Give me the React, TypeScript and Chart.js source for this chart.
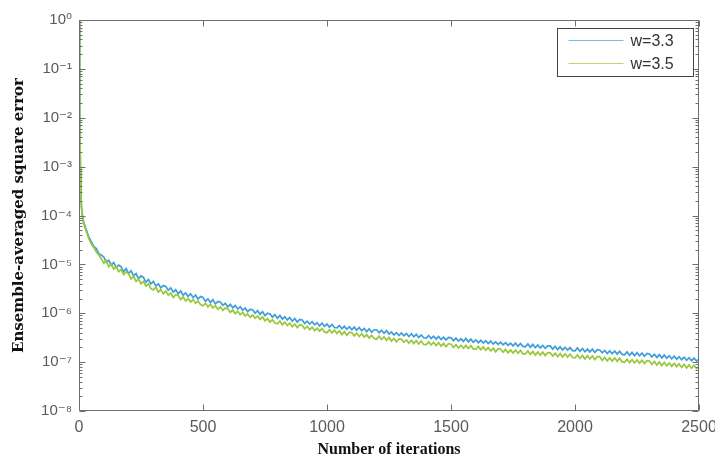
import { useEffect, useRef } from "react";
import { Chart, registerables } from "chart.js";

Chart.register(...registerables);

const iterations = [
  0, 2, 4, 6, 8, 10, 15, 20, 30, 40, 50, 60, 70, 80, 90,
  100, 110, 120, 130, 140, 150, 160, 170, 180, 190,
  200, 210, 220, 230, 240, 250, 260, 270, 280, 290,
  300, 310, 320, 330, 340, 350, 360, 370, 380, 390,
  400, 410, 420, 430, 440, 450, 460, 470, 480, 490,
  500, 510, 520, 530, 540, 550, 560, 570, 580, 590,
  600, 610, 620, 630, 640, 650, 660, 670, 680, 690,
  700, 710, 720, 730, 740, 750, 760, 770, 780, 790,
  800, 810, 820, 830, 840, 850, 860, 870, 880, 890,
  900, 910, 920, 930, 940, 950, 960, 970, 980, 990,
  1000, 1010, 1020, 1030, 1040, 1050, 1060, 1070, 1080, 1090,
  1100, 1110, 1120, 1130, 1140, 1150, 1160, 1170, 1180, 1190,
  1200, 1210, 1220, 1230, 1240, 1250, 1260, 1270, 1280, 1290,
  1300, 1310, 1320, 1330, 1340, 1350, 1360, 1370, 1380, 1390,
  1400, 1410, 1420, 1430, 1440, 1450, 1460, 1470, 1480, 1490,
  1500, 1510, 1520, 1530, 1540, 1550, 1560, 1570, 1580, 1590,
  1600, 1610, 1620, 1630, 1640, 1650, 1660, 1670, 1680, 1690,
  1700, 1710, 1720, 1730, 1740, 1750, 1760, 1770, 1780, 1790,
  1800, 1810, 1820, 1830, 1840, 1850, 1860, 1870, 1880, 1890,
  1900, 1910, 1920, 1930, 1940, 1950, 1960, 1970, 1980, 1990,
  2000, 2010, 2020, 2030, 2040, 2050, 2060, 2070, 2080, 2090,
  2100, 2110, 2120, 2130, 2140, 2150, 2160, 2170, 2180, 2190,
  2200, 2210, 2220, 2230, 2240, 2250, 2260, 2270, 2280, 2290,
  2300, 2310, 2320, 2330, 2340, 2350, 2360, 2370, 2380, 2390,
  2400, 2410, 2420, 2430, 2440, 2450, 2460, 2470, 2480, 2490,
  2500,
];

const errorW33 = [
  1.0, 1e-1, 6e-3, 8e-4, 2.5e-4, 1.5e-4, 9.0e-5, 7.0e-5, 5.0e-5, 3.6e-5, 2.9e-5, 2.3e-5, 2.1e-5, 1.65e-5, 1.55e-5,
  14.2e-6, 11.0e-6, 12.1e-6, 9.6e-6, 10.9e-6, 8.6e-6, 9.7e-6, 8.9e-6, 7.1e-6, 8.2e-6,
  6.5e-6, 7.4e-6, 5.9e-6, 6.5e-6, 5.1e-6, 5.8e-6, 5.4e-6, 4.3e-6, 4.9e-6, 4.0e-6,
  4.5e-6, 3.6e-6, 4.0e-6, 3.3e-6, 3.7e-6, 3.55e-6, 2.95e-6, 3.3e-6, 2.7e-6, 3.05e-6,
  2.5e-6, 2.85e-6, 2.35e-6, 2.6e-6, 2.2e-6, 2.5e-6, 2.1e-6, 2.35e-6, 1.95e-6, 2.2e-6,
  2.1e-6, 1.75e-6, 1.98e-6, 1.65e-6, 1.9e-6, 1.55e-6, 1.75e-6, 1.7e-6, 1.45e-6, 1.6e-6,
  1.35e-6, 1.52e-6, 1.3e-6, 1.44e-6, 1.22e-6, 1.36e-6, 1.15e-6, 1.28e-6, 1.08e-6, 1.2e-6,
  11.8e-7, 10.0e-7, 11.3e-7, 9.5e-7, 10.8e-7, 8.9e-7, 10.0e-7, 9.7e-7, 8.3e-7, 9.4e-7,
  7.9e-7, 9.0e-7, 7.6e-7, 8.5e-7, 7.3e-7, 8.2e-7, 6.9e-7, 7.8e-7, 6.6e-7, 7.5e-7,
  7.3e-7, 6.2e-7, 6.9e-7, 6.0e-7, 6.7e-7, 5.8e-7, 6.4e-7, 5.5e-7, 6.3e-7, 5.4e-7,
  6.0e-7, 5.2e-7, 5.9e-7, 5.1e-7, 5.0e-7, 5.6e-7, 4.8e-7, 5.4e-7, 4.7e-7, 5.3e-7,
  4.6e-7, 5.2e-7, 4.5e-7, 5.1e-7, 4.4e-7, 4.9e-7, 4.2e-7, 4.8e-7, 4.1e-7, 4.6e-7,
  4.6e-7, 4.0e-7, 4.5e-7, 3.9e-7, 4.4e-7, 3.75e-7, 4.15e-7, 3.6e-7, 4.0e-7, 3.5e-7,
  3.95e-7, 3.45e-7, 3.85e-7, 3.35e-7, 3.8e-7, 3.3e-7, 3.7e-7, 3.2e-7, 3.6e-7, 3.15e-7,
  3.1e-7, 3.5e-7, 3.05e-7, 3.4e-7, 2.95e-7, 3.35e-7, 2.9e-7, 3.25e-7, 2.85e-7, 3.2e-7,
  3.15e-7, 2.75e-7, 3.1e-7, 2.7e-7, 3.0e-7, 2.65e-7, 3.05e-7, 2.6e-7, 2.95e-7, 2.55e-7,
  2.85e-7, 2.5e-7, 2.8e-7, 2.45e-7, 2.75e-7, 2.4e-7, 2.7e-7, 2.35e-7, 2.6e-7, 2.3e-7,
  2.55e-7, 2.25e-7, 2.5e-7, 2.2e-7, 2.45e-7, 2.15e-7, 2.45e-7, 2.1e-7, 2.4e-7, 2.1e-7,
  2.05e-7, 2.35e-7, 2.0e-7, 2.3e-7, 1.97e-7, 2.25e-7, 1.95e-7, 2.2e-7, 1.92e-7, 2.15e-7,
  2.15e-7, 1.85e-7, 2.1e-7, 1.8e-7, 2.05e-7, 1.78e-7, 2.0e-7, 1.76e-7, 1.98e-7, 1.72e-7,
  1.7e-7, 1.95e-7, 1.66e-7, 1.9e-7, 1.63e-7, 1.85e-7, 1.62e-7, 1.84e-7, 1.58e-7, 1.8e-7,
  1.77e-7, 1.55e-7, 1.73e-7, 1.5e-7, 1.7e-7, 1.48e-7, 1.69e-7, 1.46e-7, 1.66e-7, 1.44e-7,
  1.41e-7, 1.62e-7, 1.38e-7, 1.58e-7, 1.36e-7, 1.56e-7, 1.35e-7, 1.53e-7, 1.32e-7, 1.5e-7,
  1.47e-7, 1.28e-7, 1.45e-7, 1.25e-7, 1.42e-7, 1.22e-7, 1.39e-7, 1.2e-7, 1.35e-7, 1.17e-7,
  1.32e-7, 1.15e-7, 1.29e-7, 1.12e-7, 1.26e-7, 1.09e-7, 1.23e-7, 1.07e-7, 1.21e-7, 1.05e-7,
  1.16e-7,
];

const errorW35 = [
  1.0, 1.5e-1, 8e-3, 9e-4, 2.6e-4, 1.5e-4, 8.5e-5, 6.5e-5, 4.6e-5, 3.3e-5, 2.6e-5, 2.2e-5, 1.8e-5, 1.55e-5, 1.3e-5,
  10.5e-6, 12.0e-6, 9.0e-6, 10.2e-6, 8.0e-6, 8.9e-6, 7.1e-6, 7.9e-6, 6.2e-6, 7.0e-6,
  6.4e-6, 5.0e-6, 5.7e-6, 4.5e-6, 5.0e-6, 4.0e-6, 4.5e-6, 3.6e-6, 4.0e-6, 3.2e-6,
  3.0e-6, 3.4e-6, 2.7e-6, 3.05e-6, 2.5e-6, 2.85e-6, 2.35e-6, 2.6e-6, 2.1e-6, 2.4e-6,
  2.3e-6, 1.9e-6, 2.15e-6, 1.78e-6, 2.0e-6, 1.7e-6, 1.9e-6, 1.6e-6, 1.78e-6, 1.5e-6,
  1.42e-6, 1.6e-6, 1.35e-6, 1.52e-6, 1.28e-6, 1.43e-6, 1.2e-6, 1.35e-6, 1.14e-6, 1.28e-6,
  1.22e-6, 1.04e-6, 1.17e-6, 0.98e-6, 1.1e-6, 0.93e-6, 1.04e-6, 0.88e-6, 0.97e-6, 0.83e-6,
  9.2e-7, 7.9e-7, 8.8e-7, 7.5e-7, 8.4e-7, 7.0e-7, 7.8e-7, 6.6e-7, 7.4e-7, 6.3e-7,
  6.1e-7, 6.9e-7, 5.8e-7, 6.6e-7, 5.6e-7, 6.3e-7, 5.3e-7, 6.0e-7, 5.1e-7, 5.8e-7,
  5.6e-7, 4.8e-7, 5.4e-7, 4.6e-7, 5.2e-7, 4.4e-7, 4.95e-7, 4.3e-7, 4.85e-7, 4.15e-7,
  4.0e-7, 4.6e-7, 3.95e-7, 4.5e-7, 3.85e-7, 4.35e-7, 3.65e-7, 4.2e-7, 3.55e-7, 4.1e-7,
  4.0e-7, 3.45e-7, 3.9e-7, 3.35e-7, 3.8e-7, 3.25e-7, 3.65e-7, 3.1e-7, 3.55e-7, 3.05e-7,
  2.95e-7, 3.4e-7, 2.9e-7, 3.3e-7, 2.8e-7, 3.2e-7, 2.7e-7, 3.05e-7, 2.6e-7, 3.0e-7,
  2.95e-7, 2.55e-7, 2.85e-7, 2.45e-7, 2.8e-7, 2.4e-7, 2.75e-7, 2.35e-7, 2.7e-7, 2.3e-7,
  2.28e-7, 2.6e-7, 2.25e-7, 2.55e-7, 2.18e-7, 2.5e-7, 2.12e-7, 2.42e-7, 2.07e-7, 2.38e-7,
  2.33e-7, 2.0e-7, 2.28e-7, 1.95e-7, 2.22e-7, 1.92e-7, 2.2e-7, 1.9e-7, 2.17e-7, 1.86e-7,
  1.82e-7, 2.1e-7, 1.8e-7, 2.05e-7, 1.75e-7, 1.98e-7, 1.7e-7, 1.93e-7, 1.63e-7, 1.88e-7,
  1.86e-7, 1.6e-7, 1.82e-7, 1.55e-7, 1.78e-7, 1.53e-7, 1.77e-7, 1.52e-7, 1.74e-7, 1.48e-7,
  1.47e-7, 1.69e-7, 1.44e-7, 1.65e-7, 1.4e-7, 1.62e-7, 1.39e-7, 1.6e-7, 1.36e-7, 1.57e-7,
  1.55e-7, 1.33e-7, 1.52e-7, 1.29e-7, 1.49e-7, 1.28e-7, 1.48e-7, 1.26e-7, 1.45e-7, 1.24e-7,
  1.22e-7, 1.41e-7, 1.19e-7, 1.37e-7, 1.16e-7, 1.35e-7, 1.16e-7, 1.34e-7, 1.13e-7, 1.31e-7,
  1.28e-7, 1.09e-7, 1.25e-7, 1.06e-7, 1.22e-7, 1.05e-7, 1.22e-7, 1.04e-7, 1.2e-7, 1.01e-7,
  9.9e-8, 1.15e-7, 9.8e-8, 1.12e-7, 9.6e-8, 1.11e-7, 9.5e-8, 1.1e-7, 9.3e-8, 1.07e-7,
  1.05e-7, 9.0e-8, 1.03e-7, 8.7e-8, 1.01e-7, 8.5e-8, 9.9e-8, 8.4e-8, 9.6e-8, 8.2e-8,
  9.4e-8, 8.1e-8, 9.2e-8, 7.8e-8, 9.0e-8, 7.6e-8, 8.8e-8, 7.5e-8, 8.6e-8, 7.4e-8,
  8.2e-8,
];

const seriesLabels = ["w=3.3", "w=3.5"];
const seriesColors = ["#3f9ed9", "#98c83a"];

const xTickValues = [0, 500, 1000, 1500, 2000, 2500];
const xTickLabels = ["0", "500", "1000", "1500", "2000", "2500"];
const yTickValues = [1e-8, 1e-7, 1e-6, 1e-5, 1e-4, 1e-3, 1e-2, 1e-1, 1];
const yTickLabels = ["10⁻⁸", "10⁻⁷", "10⁻⁶", "10⁻⁵", "10⁻⁴", "10⁻³", "10⁻²", "10⁻¹", "10⁰"];
const minorMultipliers = [2, 3, 4, 5, 6, 7, 8, 9];

const xTitle = "Number of iterations";
const yTitle = "Ensemble-averaged square error";

const framePlugin = {
  id: "matlabFrame",
  afterDatasetsDraw(chart: any) {
    const { ctx, chartArea, scales } = chart;
    const { left, right, top, bottom } = chartArea;
    const x = scales.x;
    const y = scales.y;
    ctx.save();
    ctx.strokeStyle = "#6e6e6e";
    ctx.lineWidth = 1;
    ctx.beginPath();
    const L = Math.round(left) + 0.5;
    const R = Math.round(right) - 0.5;
    const T = Math.round(top) + 0.5;
    const B = Math.round(bottom) - 0.5;
    ctx.rect(L, T, R - L, B - T);
    xTickValues.forEach((v) => {
      const px = Math.round(x.getPixelForValue(v)) + 0.5;
      ctx.moveTo(px, B);
      ctx.lineTo(px, B - 6);
      ctx.moveTo(px, T);
      ctx.lineTo(px, T + 6);
    });
    yTickValues.forEach((v) => {
      const py = Math.round(y.getPixelForValue(v)) + 0.5;
      ctx.moveTo(L, py);
      ctx.lineTo(L + 6, py);
      ctx.moveTo(R, py);
      ctx.lineTo(R - 6, py);
    });
    yTickValues.slice(0, -1).forEach((v) => {
      minorMultipliers.forEach((m) => {
        const py = Math.round(y.getPixelForValue(v * m)) + 0.5;
        ctx.moveTo(L, py);
        ctx.lineTo(L + 3, py);
        ctx.moveTo(R, py);
        ctx.lineTo(R - 3, py);
      });
    });
    ctx.stroke();

    const boxW = 136;
    const boxH = 48;
    const bx = Math.round(right) - 6 - boxW + 0.5;
    const by = Math.round(top) + 8 + 0.5;
    ctx.fillStyle = "#ffffff";
    ctx.fillRect(bx, by, boxW, boxH);
    ctx.strokeStyle = "#444444";
    ctx.strokeRect(bx, by, boxW, boxH);
    ctx.font = "16px 'Liberation Sans', Arial, sans-serif";
    ctx.textBaseline = "middle";
    ctx.textAlign = "left";
    chart.data.datasets.forEach((ds: any, i: number) => {
      const rowY = by + 12 + i * 23;
      ctx.strokeStyle = ds.borderColor;
      ctx.globalAlpha = 0.7;
      ctx.lineWidth = 1;
      ctx.beginPath();
      ctx.moveTo(bx + 11, rowY);
      ctx.lineTo(bx + 66, rowY);
      ctx.stroke();
      ctx.globalAlpha = 1;
      ctx.fillStyle = "#333333";
      ctx.fillText(ds.label, bx + 73, rowY + 1);
    });
    ctx.restore();
  },
};

export default function App() {
  const canvasRef = useRef<HTMLCanvasElement | null>(null);

  useEffect(() => {
    const canvas = canvasRef.current;
    if (!canvas) return;
    const makeData = (vals: number[]) => iterations.map((it, i) => ({ x: it, y: vals[i] }));
    const chart = new Chart(canvas, {
      type: "line",
      data: {
        datasets: [
          {
            label: seriesLabels[0],
            data: makeData(errorW33),
            borderColor: seriesColors[0],
            backgroundColor: seriesColors[0],
            borderWidth: 1.7,
            pointRadius: 0,
            tension: 0,
            order: 1,
          },
          {
            label: seriesLabels[1],
            data: makeData(errorW35),
            borderColor: seriesColors[1],
            backgroundColor: seriesColors[1],
            borderWidth: 1.7,
            pointRadius: 0,
            tension: 0,
            order: 0,
          },
        ],
      },
      options: {
        animation: false,
        responsive: false,
        maintainAspectRatio: false,
        devicePixelRatio: 1,
        layout: { padding: { top: 20, right: 16, left: 0, bottom: 0 } },
        plugins: {
          legend: { display: false },
          tooltip: { enabled: false },
        },
        scales: {
          x: {
            type: "linear",
            min: 0,
            max: 2500,
            afterBuildTicks: (scale: any) => {
              scale.ticks = xTickValues.map((v) => ({ value: v }));
            },
            afterFit: (scale: any) => {
              scale.height = 50;
              scale.paddingLeft = 0;
              scale.paddingRight = 0;
            },
            grid: { display: false, drawTicks: false },
            border: { display: false },
            ticks: {
              padding: 7,
              color: "#5a5a5a",
              font: { family: "'Liberation Sans', Arial, sans-serif", size: 16 },
              maxRotation: 0,
              autoSkip: false,
              callback: (value: any) => {
                const i = xTickValues.indexOf(Number(value));
                return i >= 0 ? xTickLabels[i] : "";
              },
            },
            title: {
              display: true,
              text: xTitle,
              color: "#111111",
              font: { family: "'Liberation Serif', 'Times New Roman', serif", size: 16, weight: "bold" },
              padding: { top: 0, bottom: 2 },
            },
          },
          y: {
            type: "logarithmic",
            min: 1e-8,
            max: 1,
            afterBuildTicks: (scale: any) => {
              scale.ticks = yTickValues.map((v) => ({ value: v }));
            },
            afterFit: (scale: any) => {
              scale.width = 79;
              scale.paddingTop = 0;
              scale.paddingBottom = 0;
            },
            grid: { display: false, drawTicks: false },
            border: { display: false },
            ticks: {
              padding: 7,
              color: "#5a5a5a",
              font: { family: "'Liberation Sans', 'DejaVu Sans', Arial, sans-serif", size: 15 },
              autoSkip: false,
              callback: (value: any) => {
                const i = yTickValues.indexOf(Number(value));
                return i >= 0 ? yTickLabels[i] : "";
              },
            },
            title: {
              display: true,
              text: yTitle,
              color: "#111111",
              font: { family: "'DejaVu Serif', serif", size: 15, weight: "bold" },
              padding: { top: 10, bottom: 0 },
            },
          },
        },
      },
      plugins: [framePlugin],
    });
    return () => chart.destroy();
  }, []);

  return (
    <div style={{ position: "absolute", left: 0, top: 0, width: 715, height: 461, background: "#fff" }}>
      <canvas ref={canvasRef} width={715} height={461} style={{ width: 715, height: 461, display: "block" }} />
    </div>
  );
}
